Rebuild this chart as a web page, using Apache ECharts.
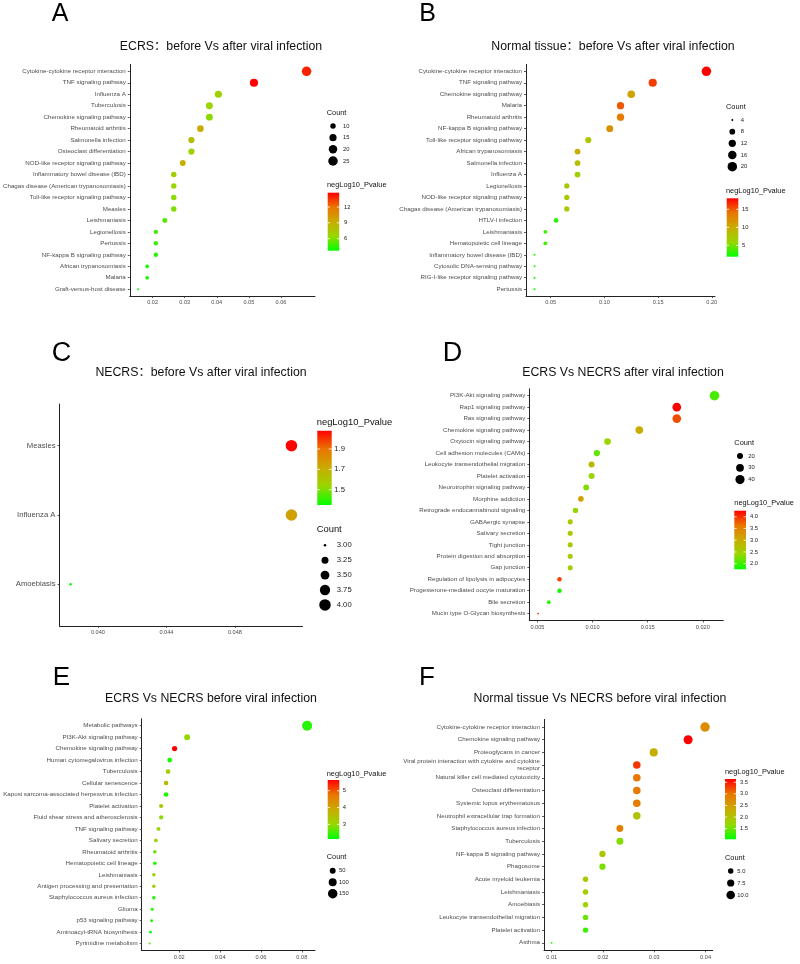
<!DOCTYPE html>
<html><head><meta charset="utf-8">
<script src="https://cdn.jsdelivr.net/npm/echarts@6/dist/echarts.min.js"></script>
<style>html,body{margin:0;padding:0;background:#fff}#c{width:800px;height:964px}</style>
</head><body><div id="c"></div>
<script>
// ---------------- DATA ----------------
// Panel A
const catsA = ['Cytokine-cytokine receptor interaction','TNF signaling pathway','Influenza A','Tuberculosis','Chemokine signaling pathway','Rheumatoid arthritis','Salmonella infection','Osteoclast differentiation','NOD-like receptor signaling pathway','Inflammatory bowel disease (IBD)','Chagas disease (American trypanosomiasis)','Toll-like receptor signaling pathway','Measles','Leishmaniasis','Legionellosis','Pertussis','NF-kappa B signaling pathway','African trypanosomiasis','Malaria','Graft-versus-host disease'];
const ratioA = [0.0680,0.0516,0.0405,0.0377,0.0377,0.0349,0.0321,0.0321,0.0294,0.0266,0.0266,0.0266,0.0266,0.0238,0.0210,0.0210,0.0210,0.0183,0.0183,0.0155];
const countA = [25,19,15,14,14,13,12,12,11,10,10,10,10,9,8,8,8,7,7,6];
const pvalA = [13.9,14.7,7.0,6.6,6.3,9.2,8.0,6.8,8.9,7.0,6.5,6.3,6.0,5.3,4.9,4.8,4.4,4.2,4.1,3.73];
const xTicksA = [0.02,0.03,0.04,0.05,0.06];
const sizeBreaksA = [10,15,20,25];
const colorBreaksA = [6,9,12];

// Panel B
const catsB = ['Cytokine-cytokine receptor interaction','TNF signaling pathway','Chemokine signaling pathway','Malaria','Rheumatoid arthritis','NF-kappa B signaling pathway','Toll-like receptor signaling pathway','African trypanosomiasis','Salmonella infection','Influenza A','Legionellosis','NOD-like receptor signaling pathway','Chagas disease (American trypanosomiasis)','HTLV-I infection','Leishmaniasis','Hematopoietic cell lineage','Inflammatory bowel disease (IBD)','Cytosolic DNA-sensing pathway','RIG-I-like receptor signaling pathway','Pertussis'];
const ratioB = [0.195,0.145,0.125,0.115,0.115,0.105,0.085,0.075,0.075,0.075,0.065,0.065,0.065,0.055,0.045,0.045,0.035,0.035,0.035,0.035];
const countB = [20,15,13,12,12,11,9,8,8,8,7,7,7,6,5,5,4,4,4,4];
const pvalB = [18.06,16.0,10.5,15.0,13.5,12.0,7.5,9.8,8.3,6.5,7.5,7.2,7.2,2.8,3.5,3.5,3.0,2.8,2.4,1.85];
const xTicksB = [0.05,0.10,0.15,0.20];
const sizeBreaksB = [4,8,12,16,20];
const colorBreaksB = [5,10,15];

// Panel C
const catsC = ['Measles','Influenza A','Amoebiasis'];
const ratioC = [0.0513,0.0513,0.0384];
const countC = [4,4,3];
const pvalC = [2.08,1.75,1.35];
const xTicksC = [0.040,0.044,0.048];
const sizeBreaksC = [3.00,3.25,3.50,3.75,4.00];
const colorBreaksC = [1.5,1.7,1.9];

// Panel D
const catsD = ['PI3K-Akt signaling pathway','Rap1 signaling pathway','Ras signaling pathway','Chemokine signaling pathway','Oxytocin signaling pathway','Cell adhesion molecules (CAMs)','Leukocyte transendothelial migration','Platelet activation','Neurotrophin signaling pathway','Morphine addiction','Retrograde endocannabinoid signaling','GABAergic synapse','Salivary secretion','Tight junction','Protein digestion and absorption','Gap junction','Regulation of lipolysis in adipocytes','Progesterone-mediated oocyte maturation','Bile secretion','Mucin type O-Glycan biosynthesis'];
const ratioD = [0.02106,0.01764,0.01764,0.01424,0.01136,0.01039,0.00991,0.00991,0.00942,0.00894,0.00845,0.00797,0.00797,0.00797,0.00797,0.00797,0.00700,0.00700,0.00603,0.00506];
const countD = [43,36,36,29,23,21,20,20,19,18,17,16,16,16,16,16,14,14,12,10];
const pvalD = [2.05,4.26,3.85,3.0,2.4,2.15,2.8,2.4,2.3,3.15,2.35,2.55,2.55,2.55,2.55,2.5,3.9,1.85,1.9,3.95];
const pvalDmin = 1.76;
const xTicksD = [0.005,0.010,0.015,0.020];
const sizeBreaksD = [20,30,40];
const colorBreaksD = [2.0,2.5,3.0,3.5,4.0];

// Panel E
const catsE = ['Metabolic pathways','PI3K-Akt signaling pathway','Chemokine signaling pathway','Human cytomegalovirus infection','Tuberculosis','Cellular senescence','Kaposi sarcoma-associated herpesvirus infection','Platelet activation','Fluid shear stress and atherosclerosis','TNF signaling pathway','Salivary secretion','Rheumatoid arthritis','Hematopoietic cell lineage','Leishmaniasis','Antigen processing and presentation','Staphylococcus aureus infection','Glioma','p53 signaling pathway','Aminoacyl-tRNA biosynthesis','Pyrimidine metabolism'];
const ratioE = [0.0826,0.02387,0.01773,0.01531,0.01453,0.01356,0.01356,0.01114,0.01114,0.00984,0.00855,0.00805,0.00805,0.00756,0.00756,0.00756,0.00676,0.00645,0.00594,0.00548];
const countE = [170,49,37,32,30,28,28,23,23,20,18,17,17,16,16,16,14,13,12,11];
const pvalE = [2.35,3.0,5.64,2.25,3.2,3.6,2.3,3.3,2.9,3.0,3.05,2.7,2.3,3.05,3.15,2.3,2.4,2.35,2.13,2.6];
const xTicksE = [0.02,0.04,0.06,0.08];
const sizeBreaksE = [50,100,150];
const colorBreaksE = [3,4,5];

// Panel F
const catsF = ['Cytokine-cytokine receptor interaction','Chemokine signaling pathway','Proteoglycans in cancer','Viral protein interaction with cytokine and cytokine\nreceptor','Natural killer cell mediated cytotoxicity','Osteoclast differentiation','Systemic lupus erythematosus','Neutrophil extracellular trap formation','Staphylococcus aureus infection','Tuberculosis','NF-kappa B signaling pathway','Phagosome','Acute myeloid leukemia','Leishmaniasis','Amoebiasis','Leukocyte transendothelial migration','Platelet activation','Asthma'];
const ratioF = [0.0399,0.0366,0.0299,0.0266,0.0266,0.0266,0.0266,0.0266,0.0233,0.0233,0.0199,0.0199,0.0166,0.0166,0.0166,0.0166,0.0166,0.0100];
const countF = [12,11,9,8,8,8,8,8,7,7,6,6,5,5,5,5,5,3];
const pvalF = [2.75,3.64,2.3,3.35,2.95,2.95,2.9,1.95,2.9,1.6,1.95,1.55,1.9,1.85,1.75,1.5,1.3,1.04];
const xTicksF = [0.01,0.02,0.03,0.04];
const sizeBreaksF = [5.0,7.5,10.0];
const colorBreaksF = [1.5,2.0,2.5,3.0,3.5];

// ---------------- LAYOUT ----------------
const GRAD = ['#00FF00','#98D700','#C9AB00','#E97600','#FF0000'];
const FONT = '"Liberation Sans", Arial, "Noto Sans CJK SC", sans-serif';

const panels = [
 {letter:'A', title:'ECRS：before Vs after viral infection', cats:catsA, ratio:ratioA, count:countA, pval:pvalA, xTicks:xTicksA, xDec:2, sizeBreaks:sizeBreaksA, sizeDec:0, colorBreaks:colorBreaksA, colorDec:0,
  L:{lx:51.7, ly:14, lf:25, tx:221, ty:47, left:129, top:64.4, width:186, height:231.7, catFont:6.2, dmin:2, dmax:9.5,
     cnt:{tx:326.7, ty:113, y0:126, dy:11.67, dx:333, lx:343}, col:{tx:327, ty:185.3, x:327.7, y:192.7, w:11.5, h:58, lx:344}, tf:7.4, lfnt:5.8}},
 {letter:'B', title:'Normal tissue：before Vs after viral infection', cats:catsB, ratio:ratioB, count:countB, pval:pvalB, xTicks:xTicksB, xDec:2, sizeBreaks:sizeBreaksB, sizeDec:0, colorBreaks:colorBreaksB, colorDec:0,
  L:{lx:419.3, ly:13.8, lf:25, tx:613, ty:47, left:526, top:64.4, width:189, height:231.7, catFont:6.2, dmin:2, dmax:9.5,
     cnt:{tx:726, ty:107.3, y0:120, dy:11.67, dx:732.3, lx:740.7}, col:{tx:726, ty:191.3, x:726.7, y:198.3, w:11.6, h:58.4, lx:742}, tf:7.4, lfnt:5.8}},
 {letter:'C', title:'NECRS：before Vs after viral infection', cats:catsC, ratio:ratioC, count:countC, pval:pvalC, xTicks:xTicksC, xDec:3, sizeBreaks:sizeBreaksC, sizeDec:2, colorBreaks:colorBreaksC, colorDec:1,
  L:{lx:51.7, ly:353.2, lf:27, tx:201, ty:372.3, left:59.5, top:404.1, width:243, height:221.8, catFont:7.7, dmin:2.5, dmax:11.5,
     cnt:{tx:316.7, ty:529, y0:545.3, dy:14.9, dx:325, lx:336.7}, col:{tx:316.7, ty:422.3, x:317.3, y:430.7, w:14.4, h:74.3, lx:334.3}, tf:9.4, lfnt:7.7}},
 {letter:'D', title:'ECRS Vs NECRS after viral infection', cats:catsD, ratio:ratioD, count:countD, pval:pvalD, pmin:pvalDmin, xTicks:xTicksD, xDec:3, sizeBreaks:sizeBreaksD, sizeDec:0, colorBreaks:colorBreaksD, colorDec:1,
  L:{lx:442.7, ly:353.2, lf:27, tx:623, ty:373, left:529.3, top:388.8, width:194, height:231.7, catFont:6.2, dmin:1.8, dmax:9.5,
     cnt:{tx:734.3, ty:443.3, y0:456, dy:11.8, dx:740, lx:748.3}, col:{tx:734.3, ty:503.3, x:734.3, y:510.7, w:11.7, h:58.6, lx:750}, tf:7.4, lfnt:5.8}},
 {letter:'E', title:'ECRS Vs NECRS before viral infection', cats:catsE, ratio:ratioE, count:countE, pval:pvalE, xTicks:xTicksE, xDec:2, sizeBreaks:sizeBreaksE, sizeDec:0, colorBreaks:colorBreaksE, colorDec:0,
  L:{lx:52.7, ly:677.7, lf:26, tx:211, ty:699, left:141.7, top:718.8, width:173.3, height:231.7, catFont:6.2, dmin:2, dmax:10,
     cnt:{tx:326.7, ty:857.3, y0:870.7, dy:11.5, dx:332.7, lx:339}, col:{tx:326.7, ty:773.7, x:327.7, y:780, w:11.6, h:59, lx:342.7}, tf:7.4, lfnt:5.8}},
 {letter:'F', title:'Normal tissue Vs NECRS before viral infection', cats:catsF, ratio:ratioF, count:countF, pval:pvalF, xTicks:xTicksF, xDec:2, sizeBreaks:sizeBreaksF, sizeDec:1, colorBreaks:colorBreaksF, colorDec:1,
  L:{lx:419, ly:677.7, lf:26, tx:600, ty:699, left:544, top:719.4, width:168.7, height:231, catFont:6.2, dmin:1.8, dmax:9.5,
     cnt:{tx:725, ty:858.3, y0:871, dy:12, dx:730.7, lx:737.3}, col:{tx:725, ty:772, x:725, y:779, w:11, h:60.3, lx:740}, tf:7.4, lfnt:5.8}}
];

function txt(text, x, y, size, fill, align, valign, weight){
  return {type:'text', silent:true, style:{text:text, x:x, y:y, fontSize:size, fontFamily:FONT, fontWeight:weight||'normal', fill:fill,
    align:align||'left', verticalAlign:valign||'middle', textAlign:align||'left', textVerticalAlign:valign||'middle'}};
}

const option = {animation:false, backgroundColor:'#fff', grid:[], xAxis:[], yAxis:[], series:[], visualMap:[], graphic:{elements:[]}};
const G = option.graphic.elements;

panels.forEach((p,k)=>{
  const L = p.L;
  const xmn = Math.min(...p.ratio), xmx = Math.max(...p.ratio), pad = (xmx-xmn)*0.05;
  const cmn = Math.min(...p.count), cmx = Math.max(...p.count);
  const pmn = (p.pmin!==undefined)? p.pmin : Math.min(...p.pval), pmx = Math.max(...p.pval);
  const size = c => L.dmin + (L.dmax-L.dmin)*Math.sqrt(Math.max(0,c-cmn)/(cmx-cmn));
  const n = p.cats.length;
  const idx = p.cats.map((_,i)=>i);

  option.grid.push({left:L.left, top:L.top, width:L.width, height:L.height, show:false, containLabel:false});
  option.xAxis.push({type:'value', gridIndex:k, min:xmn-pad, max:xmx+pad,
    axisLine:{show:true, onZero:false, lineStyle:{color:'#222', width:1}},
    axisTick:{show:true, length:2, customValues:p.xTicks, lineStyle:{color:'#333', width:0.8}},
    axisLabel:{show:true, customValues:p.xTicks, formatter:v=>Number(v).toFixed(p.xDec), fontSize:5.6, color:'#4d4d4d', fontFamily:FONT, margin:4},
    splitLine:{show:false}});
  option.yAxis.push({type:'value', gridIndex:k, min:-0.6, max:n-0.4, inverse:true,
    axisLine:{show:true, onZero:false, lineStyle:{color:'#222', width:1}},
    axisTick:{show:true, length:2, customValues:idx, lineStyle:{color:'#333', width:0.8}},
    axisLabel:{show:true, customValues:idx, formatter:v=>p.cats[Math.round(v)], fontSize:L.catFont, lineHeight:L.catFont*1.1, color:'#4d4d4d', fontFamily:FONT, margin:4, align:'right'},
    splitLine:{show:false}});
  option.series.push({type:'scatter', xAxisIndex:k, yAxisIndex:k, silent:true,
    data:p.ratio.map((r,i)=>[r, i, p.pval[i], p.count[i]]),
    symbol:'circle', symbolSize:d=>size(d[3]), itemStyle:{opacity:1}, emphasis:{disabled:true}});
  option.visualMap.push({type:'continuous', show:false, seriesIndex:k, dimension:2, min:pmn, max:pmx, inRange:{color:GRAD}});

  // letter and title
  G.push(txt(p.letter, L.lx, L.ly, L.lf, '#000', 'left', 'middle'));
  G.push(txt(p.title, L.tx, L.ty, 12.3, '#111', 'center', 'middle'));

  // size legend
  const c = L.cnt;
  G.push(txt('Count', c.tx, c.ty, L.tf, '#111', 'left', 'middle'));
  p.sizeBreaks.forEach((b,i)=>{
    const y = c.y0 + i*c.dy;
    G.push({type:'circle', silent:true, shape:{cx:c.dx, cy:y, r:size(b)/2}, style:{fill:'#000'}});
    G.push(txt(b.toFixed(p.sizeDec), c.lx, y, L.lfnt, '#222', 'left', 'middle'));
  });
  // colour legend
  const q = L.col;
  G.push(txt('negLog10_Pvalue', q.tx, q.ty, L.tf, '#111', 'left', 'middle'));
  G.push({type:'rect', silent:true, shape:{x:q.x, y:q.y, width:q.w, height:q.h},
    style:{fill:new echarts.graphic.LinearGradient(0,0,0,1,GRAD.slice().reverse().map((col,i)=>({offset:i/(GRAD.length-1), color:col})))}});
  p.colorBreaks.forEach(b=>{
    const y = q.y + (pmx-b)/(pmx-pmn)*q.h;
    G.push({type:'line', silent:true, shape:{x1:q.x, y1:y, x2:q.x+q.w*0.2, y2:y}, style:{stroke:'#fff', lineWidth:0.8}});
    G.push({type:'line', silent:true, shape:{x1:q.x+q.w*0.8, y1:y, x2:q.x+q.w, y2:y}, style:{stroke:'#fff', lineWidth:0.8}});
    G.push(txt(b.toFixed(p.colorDec), q.lx, y, L.lfnt, '#222', 'left', 'middle'));
  });
});

const chart = echarts.init(document.getElementById('c'), null, {renderer:'canvas'});
chart.setOption(option);
</script>
</body></html>
